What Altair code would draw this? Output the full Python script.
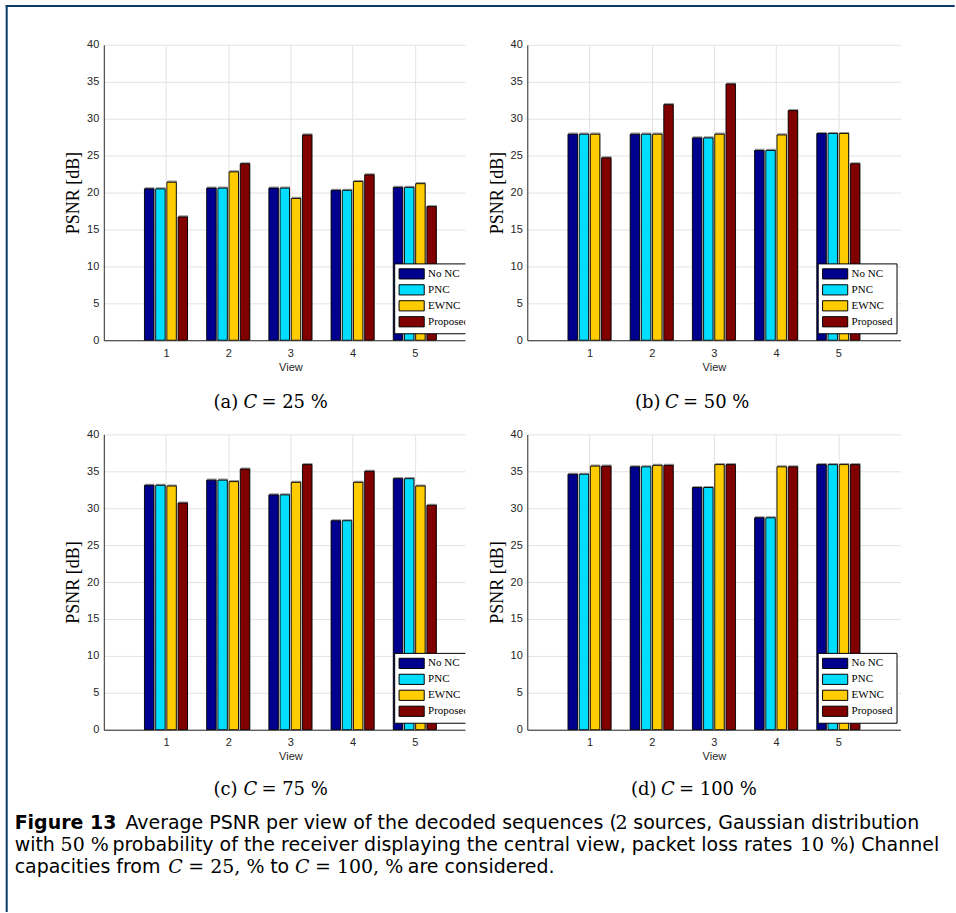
import altair as alt
import pandas as pd

views = [1, 2, 3, 4, 5]
series = ["No NC", "PNC", "EWNC", "Proposed"]
colors = ["#00008F", "#00DDFF", "#FFCC00", "#800000"]
y_ticks = [0, 5, 10, 15, 20, 25, 30, 35, 40]

# C = 25 %
a_nonc = [20.5, 20.6, 20.6, 20.3, 20.7]
a_pnc = [20.5, 20.6, 20.6, 20.3, 20.7]
a_ewnc = [21.4, 22.8, 19.2, 21.5, 21.2]
a_prop = [16.7, 23.9, 27.8, 22.4, 18.1]
# C = 50 %
b_nonc = [27.9, 27.9, 27.4, 25.7, 28.0]
b_pnc = [27.9, 27.9, 27.4, 25.7, 28.0]
b_ewnc = [27.9, 27.9, 27.9, 27.8, 28.0]
b_prop = [24.7, 31.9, 34.7, 31.1, 23.9]
# C = 75 %
c_nonc = [33.1, 33.8, 31.8, 28.3, 34.0]
c_pnc = [33.1, 33.8, 31.8, 28.3, 34.0]
c_ewnc = [33.0, 33.6, 33.5, 33.5, 33.0]
c_prop = [30.7, 35.3, 35.9, 35.0, 30.4]
# C = 100 %
d_nonc = [34.6, 35.6, 32.8, 28.7, 35.9]
d_pnc = [34.6, 35.6, 32.8, 28.7, 35.9]
d_ewnc = [35.7, 35.8, 35.9, 35.6, 35.9]
d_prop = [35.7, 35.8, 35.9, 35.6, 35.9]

sub_labels = ["(a)", "(b)", "(c)", "(d)"]
sub_values = ["= 25 %", "= 50 %", "= 75 %", "= 100 %"]

cap_line1 = ["Figure 13", "Average PSNR per view of the decoded sequences (", "2",
             "sources, Gaussian distribution"]
cap_line2 = ["with", "50 %", "probability of the receiver displaying the central view, packet loss rates",
             "10 %", ") Channel"]
cap_line3 = ["capacities from", "C", "= 25, %", "to", "C", "= 100, %", "are considered."]

W, H = 374, 296
SANS = "Liberation Sans"
SERIF = "Liberation Serif"
DOC_SANS = "DejaVu Sans"
DOC_SERIF = "DejaVu Serif"
AXC = "#262626"


def make_df(nonc, pnc, ewnc, prop):
    rows = []
    for i, (s, vals) in enumerate(zip(series, [nonc, pnc, ewnc, prop])):
        for v, val in zip(views, vals):
            rows.append({"view": v, "series": s, "idx": i, "value": val})
    return pd.DataFrame(rows)


def txt(text, x, y, font, size, style="normal", weight="normal", color="black"):
    return alt.Chart(pd.DataFrame({"t": [text]})).mark_text(
        align="left", baseline="middle", font=font, fontSize=size,
        fontStyle=style, fontWeight=weight, color=color
    ).encode(x=alt.value(x), y=alt.value(y), text="t:N")


def panel(vals, k, cap_x, cap_y, cover=False, extra=None):
    df = make_df(*vals)
    base = alt.Chart(df).transform_calculate(
        x0="datum.view + datum.idx * 0.18 - 0.27 - 0.076",
        x1="datum.view + datum.idx * 0.18 - 0.27 + 0.076",
        base="0",
    )
    xenc = alt.X("x0:Q", scale=alt.Scale(domain=[0, 6], nice=False, zero=False),
                 axis=alt.Axis(values=views, title="View", format="d", grid=True,
                               gridColor="#e3e3e3", domainColor=AXC, tickSize=0,
                               labelFont=SANS, labelFontSize=11, labelColor=AXC,
                               labelPadding=7, labelAngle=0,
                               titleFont=SANS, titleFontSize=11, titleFontWeight="normal",
                               titleColor=AXC, titlePadding=3))
    yenc = alt.Y("value:Q", scale=alt.Scale(domain=[0, 40], nice=False),
                 axis=alt.Axis(values=y_ticks, title="PSNR [dB]", grid=True,
                               gridColor="#e3e3e3", domainColor=AXC, tickSize=0,
                               labelFont=SANS, labelFontSize=11, labelColor=AXC,
                               labelPadding=5,
                               titleFont=SERIF, titleFontSize=18, titleFontWeight="normal",
                               titleColor="black", titlePadding=4))
    shadow = base.mark_bar(color="#9a9a9a", stroke="#9a9a9a", strokeWidth=1.2,
                           xOffset=1, yOffset=-1).encode(x=xenc, x2="x1:Q", y=yenc, y2="base:Q")
    bars = base.mark_bar(stroke="black", strokeWidth=0.9, opacity=1).encode(
        x=xenc, x2="x1:Q", y=yenc, y2="base:Q",
        color=alt.Color("series:N", sort=series,
                        scale=alt.Scale(domain=series, range=colors),
                        legend=alt.Legend(title=None, orient="none", legendX=291, legendY=219,
                                          direction="vertical",
                                          symbolType="M-2.1,-0.85H2.1V0.85H-2.1Z",
                                          symbolSize=144, symbolOffset=7,
                                          symbolStrokeColor="black",
                                          symbolStrokeWidth=1, symbolOpacity=1,
                                          labelFont=SERIF, labelFontSize=11, labelColor="black",
                                          labelOffset=10, rowPadding=1, padding=4,
                                          strokeColor="black", fillColor="white")))
    layers = []
    if extra is not None:
        layers.extend(extra)
    if cover:
        layers.append(alt.Chart(pd.DataFrame({"t": [0]})).mark_rect(color="white").encode(
            x=alt.value(-62), x2=alt.value(-48), y=alt.value(-30), y2=alt.value(H + 6)))
    layers += [shadow, bars,
               txt(sub_labels[k], cap_x, cap_y, DOC_SERIF, 18),
               txt("C", cap_x + 30, cap_y, DOC_SERIF, 18, style="italic"),
               txt(sub_values[k], cap_x + 48, cap_y, DOC_SERIF, 18)]
    return alt.layer(*layers).properties(width=W, height=H)


one = pd.DataFrame({"t": [0]})
bg = alt.Chart(one).mark_rect(color="white", opacity=0).encode(
    x=alt.value(-103.3), x2=alt.value(956 - 103.3), y=alt.value(-44), y2=alt.value(913 - 44))
frame_l = alt.Chart(one).mark_rule(color="#0b3a6a", strokeWidth=2).encode(
    x=alt.value(-97.3), y=alt.value(-40), y2=alt.value(913 - 44))
frame_t = alt.Chart(one).mark_rule(color="#0b3a6a", strokeWidth=2).encode(
    x=alt.value(-98.3), x2=alt.value(956 - 103.3), y=alt.value(-39))

# figure caption, placed relative to panel (a) origin (103.3, 44)
ox, oy = 103.3, 44
L1, L2, L3 = 824 - oy, 846 - oy, 868 - oy
FS = 19
cap = [
    txt(cap_line1[0], 14 - ox, L1, DOC_SANS, FS, weight="bold"),
    txt(cap_line1[1], 125 - ox, L1, DOC_SANS, FS),
    txt(cap_line1[2], 616 - ox, L1, DOC_SERIF, FS),
    txt(cap_line1[3], 634 - ox, L1, DOC_SANS, FS),
    txt(cap_line2[0], 14 - ox, L2, DOC_SANS, FS),
    txt(cap_line2[1], 60 - ox, L2, DOC_SERIF, FS),
    txt(cap_line2[2], 112 - ox, L2, DOC_SANS, FS),
    txt(cap_line2[3], 801 - ox, L2, DOC_SERIF, FS),
    txt(cap_line2[4], 849 - ox, L2, DOC_SANS, FS),
    txt(cap_line3[0], 14 - ox, L3, DOC_SANS, FS),
    txt(cap_line3[1], 168 - ox, L3, DOC_SERIF, FS, style="italic"),
    txt(cap_line3[2], 188 - ox, L3, DOC_SERIF, FS),
    txt(cap_line3[3], 270 - ox, L3, DOC_SANS, FS),
    txt(cap_line3[4], 295 - ox, L3, DOC_SERIF, FS, style="italic"),
    txt(cap_line3[5], 315 - ox, L3, DOC_SERIF, FS),
    txt(cap_line3[6], 408 - ox, L3, DOC_SANS, FS),
]

pa = panel([a_nonc, a_pnc, a_ewnc, a_prop], 0, 110, 359, extra=[bg, frame_l, frame_t] + cap)
pb = panel([b_nonc, b_pnc, b_ewnc, b_prop], 1, 108, 359, cover=True)
pc = panel([c_nonc, c_pnc, c_ewnc, c_prop], 2, 110, 356)
pd_ = panel([d_nonc, d_pnc, d_ewnc, d_prop], 3, 104, 356, cover=True)

chart = alt.concat(pa, pb, pc, pd_, columns=2, spacing={"row": 94.3, "column": 50.4},
                   bounds="flush").resolve_scale(
    color="independent").resolve_legend(color="independent").properties(
    padding=0, background="white").configure_view(strokeOpacity=0)

chart.save("out.html", embed_options={"renderer": "svg", "actions": False})
